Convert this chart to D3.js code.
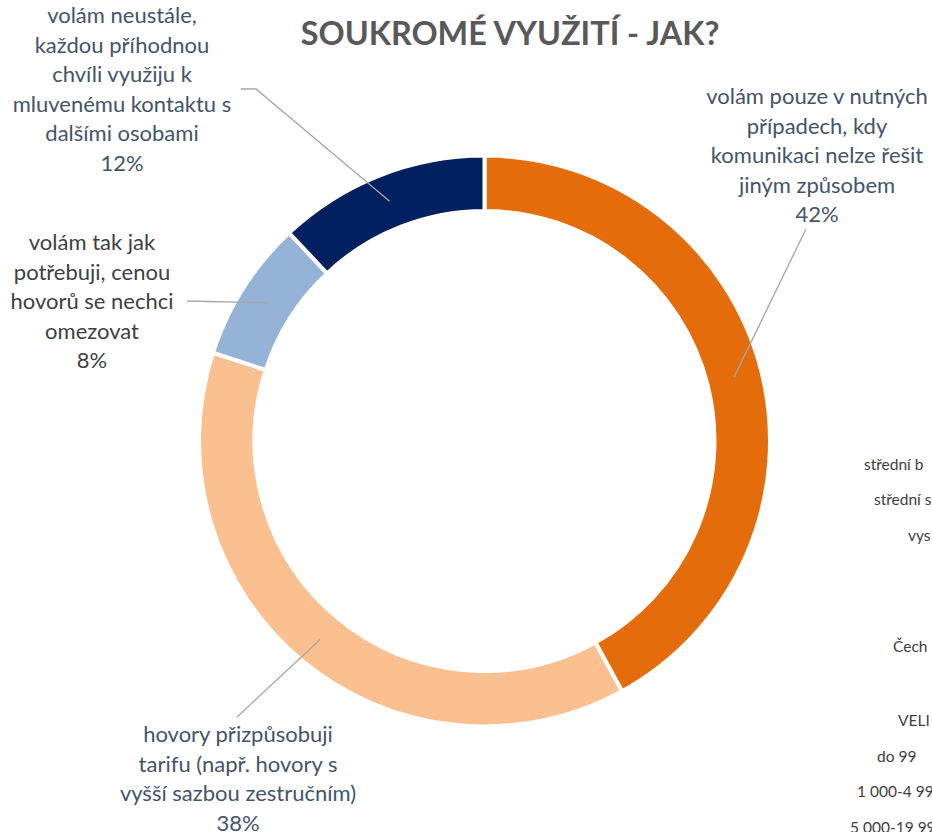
<!DOCTYPE html>
<html>
<head>
<meta charset="utf-8">
<script src="https://cdn.jsdelivr.net/npm/d3@7"></script>
<style>
  body { margin: 0; background: #fff; }
  svg { display: block; }
</style>
</head>
<body>
<svg id="chart" width="932" height="832"></svg>
<script>
// data
var categories = [
    ["volám pouze v nutných", "případech, kdy", "komunikaci nelze řešit", "jiným způsobem"],
    ["hovory přizpůsobuji", "tarifu (např. hovory s", "vyšší sazbou zestručním)"],
    ["volám tak jak", "potřebuji, cenou", "hovorů se nechci", "omezovat"],
    ["volám neustále,", "každou příhodnou", "chvíli využiju k", "mluvenému kontaktu s", "dalšími osobami"]
];
var shares = [42, 38, 8, 12];
var colors = ["#E46C0A", "#FAC090", "#95B3D7", "#002060"];
// cut-off labels of the neighbouring chart on the right
var sideLabels = ["střední b", "střední s", "vys", "Čech", "VELI", "do 99", "1 000-4 99", "5 000-19 99"];

// layout
var cx = 484.5, cy = 441, outerR = 285.5, innerR = 230;
var labelPos = [
    {x: 817, y: 104, color: "#44546A", lineFrom: [[806, 229]]},
    {x: 238, y: 742, color: "#44546A", lineFrom: [[237, 717]]},
    {x: 92, y: 250, color: "#404040", lineFrom: [[187, 301]]},
    {x: 122, y: 23, color: "#44546A", lineFrom: [[241, 89], [256, 89]]}
];
var sidePos = [[864, 470], [874, 505], [908, 541], [893, 652], [898, 726], [877, 762], [857, 797], [850, 833]];
var lineH = 29.5;

var svg = d3.select("#chart");

svg.append("text")
    .attr("x", 510)
    .attr("y", 45)
    .attr("text-anchor", "middle")
    .attr("font-family", "Lato, 'Open Sans', sans-serif")
    .attr("font-weight", "bold")
    .attr("font-size", 32.4)
    .attr("fill", "#595959")
    .text("SOUKROMÉ VYUŽITÍ - JAK?");

var pie = d3.pie().sort(null).value(function (d) { return d; });
var arcs = pie(shares);
var arc = d3.arc().innerRadius(innerR).outerRadius(outerR);

var g = svg.append("g").attr("transform", "translate(" + cx + "," + cy + ")");

g.selectAll("path.slice")
    .data(arcs)
    .enter()
    .append("path")
    .attr("class", "slice")
    .attr("d", arc)
    .attr("fill", function (d, i) { return colors[i]; })
    .attr("stroke", "#fff")
    .attr("stroke-width", 4);

// leader lines
arcs.forEach(function (d, i) {
    var c = arc.centroid(d);
    var pts = labelPos[i].lineFrom.concat([[c[0] + cx, c[1] + cy]]);
    svg.append("path")
        .attr("d", d3.line()(pts))
        .attr("fill", "none")
        .attr("stroke", "#A6A6A6")
        .attr("stroke-width", 1.3);
});

// labels
arcs.forEach(function (d, i) {
    var lines = categories[i].concat([shares[i] + "%"]);
    var t = svg.append("text")
        .attr("text-anchor", "middle")
        .attr("font-family", "Lato, 'Open Sans', sans-serif")
        .attr("font-size", 22)
        .attr("fill", labelPos[i].color);
    lines.forEach(function (s, k) {
        t.append("tspan")
            .attr("x", labelPos[i].x)
            .attr("y", labelPos[i].y + k * lineH)
            .text(s);
    });
});

svg.selectAll("text.side")
    .data(sideLabels)
    .enter()
    .append("text")
    .attr("class", "side")
    .attr("x", function (d, i) { return sidePos[i][0]; })
    .attr("y", function (d, i) { return sidePos[i][1]; })
    .attr("font-family", "Lato, 'Open Sans', sans-serif")
    .attr("font-size", 15.5)
    .attr("fill", "#404040")
    .text(function (d) { return d; });
</script>
</body>
</html>
